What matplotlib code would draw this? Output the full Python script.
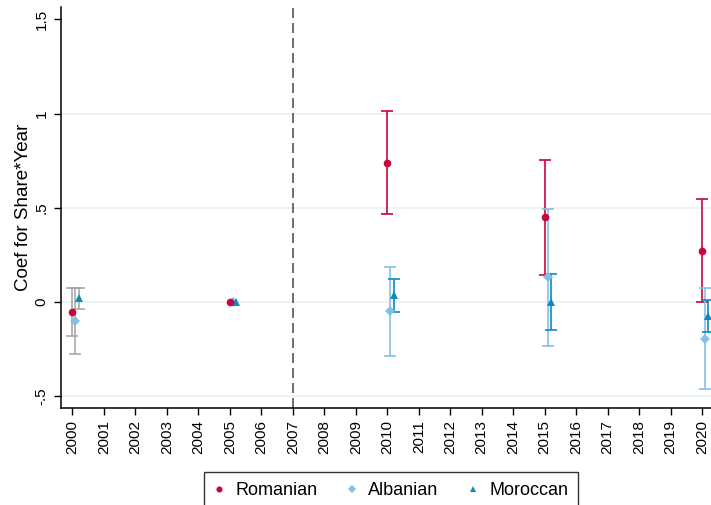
import numpy as np
import matplotlib
matplotlib.use("Agg")
import matplotlib.pyplot as plt
from matplotlib.lines import Line2D

plt.rcParams['font.family'] = ['Liberation Sans', 'DejaVu Sans']

# event-study coefficients (2005 = reference year, no CI)
years = [2000, 2005, 2010, 2015, 2020]

rom_coef = [-0.053, 0.0, 0.739, 0.450, 0.272]
rom_lo = [-0.180, np.nan, 0.466, 0.143, 0.000]
rom_hi = [0.076, np.nan, 1.013, 0.755, 0.547]

alb_coef = [-0.099, 0.0, -0.048, 0.134, -0.196]
alb_lo = [-0.275, np.nan, -0.286, -0.231, -0.462]
alb_hi = [0.076, np.nan, 0.187, 0.496, 0.074]

mor_coef = [0.023, 0.0, 0.037, 0.002, -0.074]
mor_lo = [-0.037, np.nan, -0.055, -0.148, -0.160]
mor_hi = [0.076, np.nan, 0.122, 0.150, 0.009]

# name, values, x offset, colour, marker, size, marker z-order
series = [
    ("Romanian", rom_coef, rom_lo, rom_hi, 0.0, '#C8053C', 'o', 5.5, 3.2),
    ("Albanian", alb_coef, alb_lo, alb_hi, 0.1, '#86BFE6', 'D', 4.8, 3.0),
    ("Moroccan", mor_coef, mor_lo, mor_hi, 0.2, '#0A8BC2', '^', 5.8, 3.1),
]
pre_color = '#A9A9A9'

fig = plt.figure(figsize=(7.11, 5.05), dpi=100)
ax = fig.add_axes([61/711, 97/505, 650/711, 401/505])

for yv in [-0.5, 0, 0.5, 1]:
    ax.axhline(yv, color='#EAF2F3', lw=1.3, zorder=0)

ax.axvline(2007, color='#555555', lw=1.2, dashes=(6, 3), zorder=1, clip_on=False)

# confidence intervals
for name, coef, lo, hi, off, col, mk, ms, z in series:
    for yr, c, l, h in zip(years, coef, lo, hi):
        if np.isnan(l):
            continue
        bc = pre_color if yr < 2005 else col
        ax.errorbar(yr + off, c, yerr=[[c - l], [h - c]], fmt='none',
                    ecolor=bc, elinewidth=1.2, capsize=4, capthick=1.2, zorder=2)

# point estimates
for name, coef, lo, hi, off, col, mk, ms, z in series:
    ax.plot(np.array(years) + off, coef, linestyle='none', marker=mk,
            color=col, markersize=ms, markeredgewidth=0, zorder=z)

ax.set_xlim(1999.64, 2020.28)
ax.set_ylim(-0.562, 1.565)

ax.set_xticks(range(2000, 2021))
ax.set_xticklabels([str(y) for y in range(2000, 2021)], rotation=90, fontsize=11)
ax.set_yticks([-0.5, 0, 0.5, 1, 1.5])
ax.set_yticklabels(['-.5', '0', '.5', '1', '1.5'], rotation=90, va='center', fontsize=11)
ax.tick_params(axis='both', direction='out', length=5, width=1, color='black', pad=4)
ax.set_ylabel('Coef for Share*Year', fontsize=13.5, labelpad=2)

for s in ['top', 'right']:
    ax.spines[s].set_visible(False)
for s in ['left', 'bottom']:
    ax.spines[s].set_linewidth(1.1)

handles = [Line2D([], [], linestyle='none', marker=mk, color=col, markersize=ms * 0.8,
                  markeredgewidth=0, label=name)
           for name, coef, lo, hi, off, col, mk, ms, z in series]
leg = fig.legend(handles=handles, loc='upper center', bbox_to_anchor=(391/711, 1 - 472/505),
                 ncol=3, fontsize=13, frameon=True, fancybox=False, edgecolor='black',
                 handlelength=0.6, handletextpad=0.6, columnspacing=1.6,
                 borderpad=0.55, borderaxespad=0)
leg.get_frame().set_linewidth(1.0)

fig.savefig('out.png', dpi=100)
